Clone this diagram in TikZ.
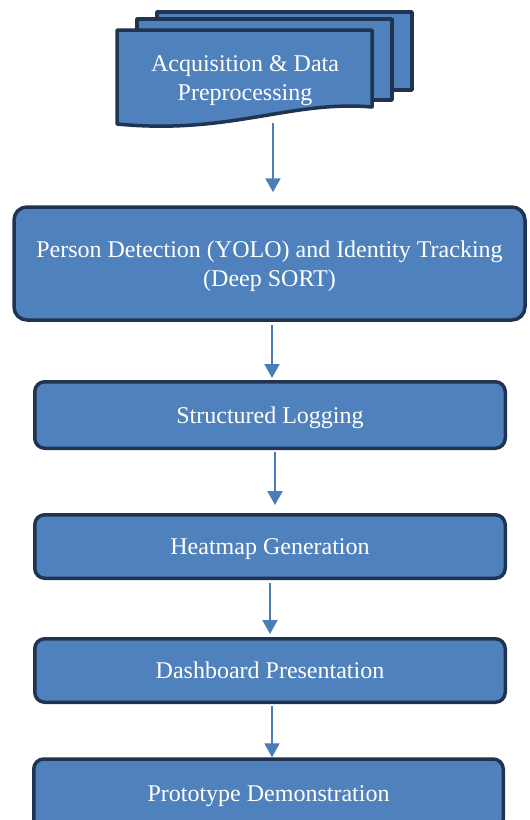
\documentclass[tikz,border=0pt]{standalone}
\usepackage{fontspec}
\setmainfont{Liberation Serif}
\usetikzlibrary{arrows.meta}
\definecolor{boxfill}{HTML}{4F81BD}
\definecolor{boxline}{RGB}{32,52,82}
\definecolor{arrowblue}{HTML}{4A7EBB}

\tikzset{
    stage/.style={draw=boxline, line width=3.5pt, fill=boxfill, rounded corners=10pt,
        text=white, font=\fontsize{24}{29}\selectfont, align=center, inner sep=0pt, text depth=-3pt},
    label/.style={text=white, font=\fontsize{24}{29}\selectfont, align=center, inner sep=0pt, text depth=-3pt},
    page/.style={draw=boxline, line width=3.5pt, fill=boxfill, line join=round},
    flow/.style={draw=arrowblue, line width=2pt, -{Triangle[length=14pt,width=15pt]}}
}

\begin{document}
\begin{tikzpicture}[x=1pt, y=1pt]
        \clip (0,0) rectangle (530,-820);
        \fill[white] (0,0) rectangle (530,-820);
        \filldraw[page] (157,-12) rectangle (412,-90);
        \filldraw[page] (137,-19) rectangle (392,-100);
        \filldraw[page] (117,-30) -- (372,-30) -- (372,-107)
            .. controls (290,-100) and (230,-135) .. (117,-124) -- cycle;
        \node[label] (acq) at (245,-78) {Acquisition \& Data\\Preprocessing};
        \coordinate (acqbot) at (273,-123);
        \node[stage, rounded corners=13pt, minimum width=511pt, minimum height=113pt] (det) at (269.5,-263.5)
            {Person Detection (YOLO) and Identity Tracking\\(Deep SORT)};
        \node[stage, minimum width=470.5pt, minimum height=66.5pt] (log) at (270,-415) {Structured Logging};
        \node[stage, minimum width=470.5pt, minimum height=63.5pt] (heat) at (270,-546.5) {Heatmap Generation};
        \node[stage, minimum width=470.5pt, minimum height=63.5pt] (dash) at (270,-670.5) {Dashboard Presentation};
        \node[stage, minimum width=469.5pt, minimum height=70pt] (proto) at (268.5,-794) {Prototype Demonstration};
        \draw[flow, shorten >=13pt] (acqbot) -- (acqbot |- det.north);
        \draw[flow, shorten <=3pt, shorten >=2pt] ([xshift=2.5pt]det.south) -- ([xshift=2.5pt]det.south |- log.north);
        \draw[flow, shorten <=2pt, shorten >=8pt] ([xshift=5pt]log.south) -- ([xshift=5pt]log.south |- heat.north);
        \draw[flow, shorten <=3pt, shorten >=3pt] (heat.south) -- (heat.south |- dash.north);
        \draw[flow, shorten <=2pt] ([xshift=2pt]dash.south) -- ([xshift=2pt]dash.south |- proto.north);
\end{tikzpicture}
\end{document}
